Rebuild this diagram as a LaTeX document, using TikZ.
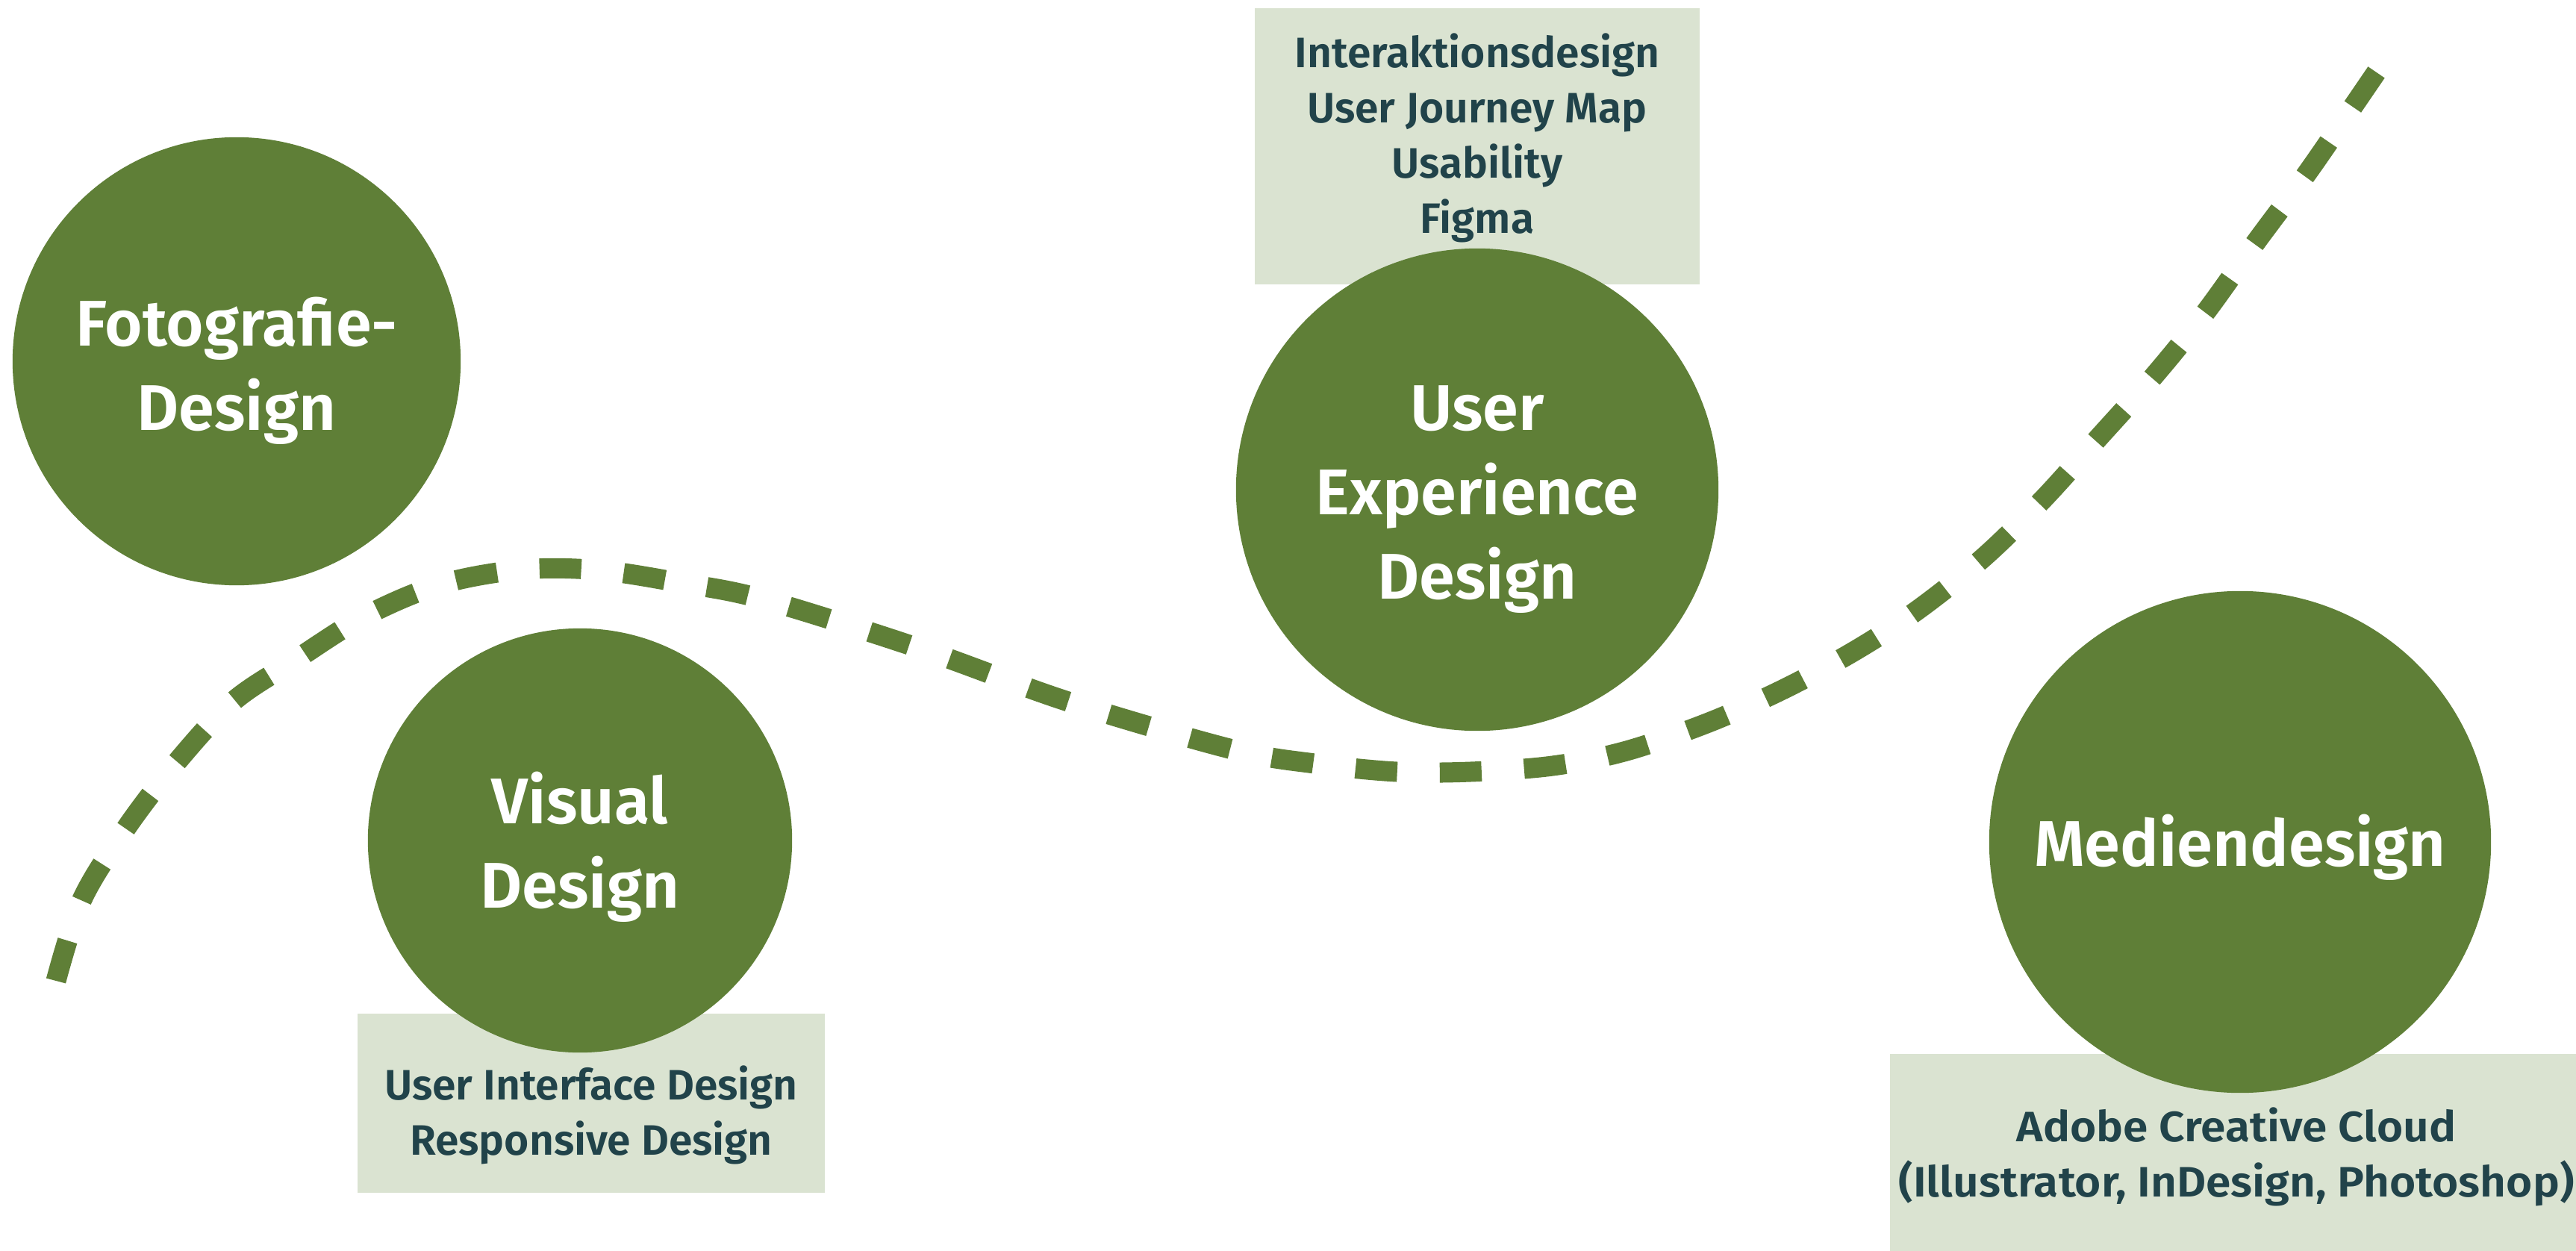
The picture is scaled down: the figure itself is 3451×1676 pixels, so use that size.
\documentclass[tikz,border=0pt]{standalone}
\usepackage{fontspec}
\setmainfont{Fira Sans}[BoldFont={Fira Sans SemiBold}]
\definecolor{dgreen}{HTML}{5F7F37}
\definecolor{lgreen}{HTML}{DAE3D1}
\definecolor{dteal}{HTML}{21434A}
\tikzset{
  bubble/.style={circle, fill=dgreen, inner sep=0pt},
  bubtext/.style={text=white, align=center, inner sep=0pt,
    font=\fontsize{24.6}{32.2}\selectfont\bfseries},
  tagbox/.style={rectangle, fill=lgreen, inner sep=0pt},
  taglabel/.style={text=dteal, align=center, inner sep=0pt,
    font=\fontsize{16.2}{21.0}\selectfont\bfseries},
  trail/.style={draw=dgreen, line width=0.27cm, dash pattern=on 0.56cm off 0.57cm}
}
\begin{document}
\begin{tikzpicture}[x=0.01cm, y=-0.01cm]
\useasboundingbox (0,0) rectangle (3451,1676);
\fill[white] (0,0) rectangle (3451,1676);
% dashed trail
\draw[trail] plot[smooth, tension=0.55] coordinates {
 (75,1314) (110,1205) (170,1108) (236,1022) (312,940) (396,884) (488,826)
 (590,783) (700,763) (803,764) (913,781) (1023,803) (1233,869) (1431,940)
 (1651,1004) (1761,1023) (1871,1034) (1970,1034) (2080,1026) (2179,1006)
 (2289,968) (2388,924) (2483,873) (2568,818) (2656,748) (2735,671)
 (2810,588) (2887,502) (2955,418) (3021,326) (3090,233) (3152,143) (3210,58)};
% boxes
\node[tagbox, minimum width=5.95cm, minimum height=3.70cm] (uxbox) at (1979,196) {};
\node[tagbox, minimum width=6.25cm, minimum height=2.40cm] (vbox) at (792,1478) {};
\node[tagbox, minimum width=9.30cm, minimum height=2.70cm, anchor=north west] (mbox) at (2531,1411) {};
\node[taglabel] (uxtext) at (1979,185) {Interaktionsdesign\\User Journey Map\\Usability\\Figma};
\node[taglabel] (vtext) at (792,1494) {User Interface Design\\Responsive Design};
\node[taglabel] (mtext) at (2996,1550) {\scalebox{1.06}[1]{Adobe Creative Cloud}\\\scalebox{1.06}[1]{(Illustrator, InDesign, Photoshop)}};
% circles
\node[bubble, minimum size=6.00cm] (foto) at (317,484) {};
\node[bubble, minimum size=5.68cm] (visual) at (777,1126) {};
\node[bubble, minimum size=6.46cm] (ux) at (1979,656) {};
\node[bubble, minimum size=6.72cm] (medien) at (3001,1128) {};
\node[bubtext] (fototext) at ([yshift=-0.13cm]foto.center) {Fotografie-\\Design};
\node[bubtext] (visualtext) at ([yshift=-0.09cm]visual.center) {Visual\\Design};
\node[bubtext] (uxtext2) at ([yshift=-0.13cm]ux.center) {User\\Experience\\Design};
\node[bubtext] (medientext) at ([yshift=-0.07cm]medien.center) {Mediendesign};
\end{tikzpicture}
\end{document}
